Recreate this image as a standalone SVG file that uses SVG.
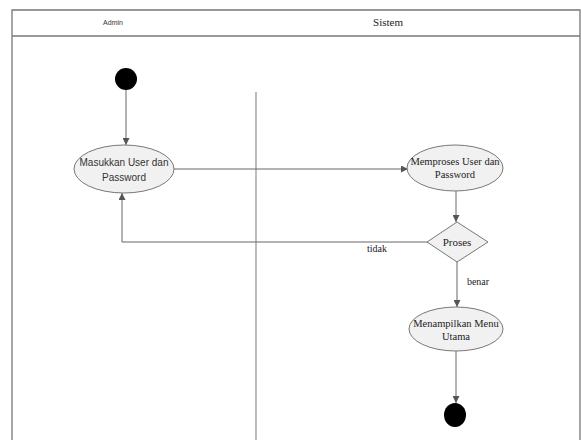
<svg xmlns="http://www.w3.org/2000/svg" width="581" height="440" viewBox="0 0 581 440">
<style>
.frame{fill:none;stroke:#777;stroke-width:1.3}
.act{fill:#f1f1f1;stroke:#777;stroke-width:1}
.edge{fill:none;stroke:#666;stroke-width:1}
.serif{font-family:"Liberation Serif","DejaVu Serif",serif;fill:#222}
.sans{font-family:"Liberation Sans","DejaVu Sans",sans-serif;fill:#333}
</style>
<defs>
<marker id="arr" viewBox="0 0 10 10" refX="10" refY="5" markerWidth="7" markerHeight="7" orient="auto" markerUnits="userSpaceOnUse">
<path d="M0,0 L10,5 L0,10 z" fill="#555"/>
</marker>
</defs>
<rect width="581" height="440" fill="#fff"/>
<g id="swimlanes">
<path class="frame" d="M12,442 V10 H580 V442"/>
<line class="frame" x1="12" y1="36" x2="580" y2="36"/>
<line x1="256" y1="92" x2="256" y2="442" stroke="#999" stroke-width="1.3"/>
<text class="sans" x="113" y="25" font-size="7" text-anchor="middle">Admin</text>
<text class="serif" x="388" y="26" font-size="11" text-anchor="middle">Sistem</text>
</g>
<g id="connectors">
<line class="edge" x1="126" y1="90" x2="126" y2="145" marker-end="url(#arr)"/>
<line class="edge" x1="174" y1="169" x2="408" y2="169" marker-end="url(#arr)"/>
<line class="edge" x1="456" y1="191" x2="456" y2="222" marker-end="url(#arr)"/>
<polyline class="edge" points="427,242 122,242 122,193" marker-end="url(#arr)"/>
<line class="edge" x1="457" y1="262" x2="457" y2="307" marker-end="url(#arr)"/>
<line class="edge" x1="456" y1="351" x2="456" y2="403" marker-end="url(#arr)"/>
<text class="serif" x="377" y="252" font-size="10" text-anchor="middle">tidak</text>
<text class="serif" x="478" y="285" font-size="10" text-anchor="middle">benar</text>
</g>
<g id="start">
<circle cx="126" cy="79" r="11" fill="#000"/>
</g>
<g id="masukkan">
<ellipse class="act" cx="124" cy="169" rx="50" ry="24"/>
<text class="sans" x="124" y="166" font-size="10" text-anchor="middle">Masukkan User dan</text>
<text class="sans" x="124" y="181" font-size="10" text-anchor="middle">Password</text>
</g>
<g id="memproses">
<ellipse class="act" cx="455" cy="168" rx="48" ry="23"/>
<text class="serif" x="455" y="165" font-size="10.5" text-anchor="middle">Memproses User dan</text>
<text class="serif" x="455" y="178" font-size="10.5" text-anchor="middle">Password</text>
</g>
<g id="proses">
<polygon class="act" points="457,222 488,242 457,262 427,242"/>
<text class="serif" x="457" y="246" font-size="11" text-anchor="middle">Proses</text>
</g>
<g id="menampilkan">
<ellipse class="act" cx="456" cy="329" rx="47" ry="22"/>
<text class="serif" x="456" y="327" font-size="10.5" text-anchor="middle">Menampilkan Menu</text>
<text class="serif" x="456" y="340" font-size="10.5" text-anchor="middle">Utama</text>
</g>
<g id="end">
<ellipse cx="455" cy="415" rx="11" ry="12" fill="#000"/>
</g>
</svg>
